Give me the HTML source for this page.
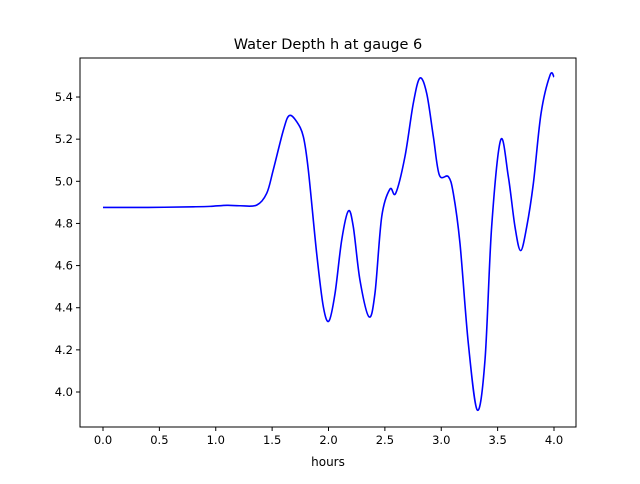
<!DOCTYPE html>
<html><head><meta charset="utf-8"><style>
body{margin:0;background:#fff;font-family:"DejaVu Sans","Liberation Sans",sans-serif}
</style></head><body>
<svg id="c" width="640" height="480" xmlns="http://www.w3.org/2000/svg"></svg>
<script>
const times=[0,0.4,0.8,0.95,1.1,1.215,1.363,1.452,1.51,1.60,1.652,1.718,1.777,1.821,1.895,1.954,2.004,2.058,2.117,2.176,2.22,2.279,2.359,2.412,2.472,2.545,2.596,2.678,2.752,2.811,2.871,2.93,2.983,3.063,3.107,3.166,3.24,3.32,3.388,3.447,3.527,3.595,3.654,3.704,3.758,3.817,3.885,3.965,4.0];
const depths=[4.876,4.876,4.879,4.881,4.886,4.884,4.887,4.943,5.054,5.243,5.312,5.283,5.212,5.054,4.658,4.405,4.337,4.468,4.721,4.859,4.784,4.531,4.357,4.468,4.832,4.963,4.943,5.117,5.370,5.490,5.417,5.212,5.030,5.022,4.943,4.706,4.231,3.914,4.152,4.784,5.196,5.022,4.784,4.671,4.784,4.990,5.322,5.504,5.495];
const xTicks=[0,0.5,1,1.5,2,2.5,3,3.5,4];
const yTicks=[4.0,4.2,4.4,4.6,4.8,5.0,5.2,5.4];
const NS="http://www.w3.org/2000/svg";
const svg=document.getElementById('c');
const L=80,R=576,T=58,B=427;
const xs=t=>103+t*112.75;
const ys=h=>392-(h-4.0)*210.7;
function mk(tag,a,txt){const e=document.createElementNS(NS,tag);for(const k in a)e.setAttribute(k,a[k]);if(txt!==undefined)e.textContent=txt;svg.appendChild(e);return e;}
let t=mk('text',{x:328,y:49,'text-anchor':'middle','font-size':'14.5',fill:'#000'},'Water Depth h at gauge 6');


// line
const P=times.map((v,i)=>[xs(v),ys(depths[i])]);
let d='M'+P[0][0]+','+P[0][1];
for(let i=0;i<P.length-1;i++){const p0=P[Math.max(0,i-1)],p1=P[i],p2=P[i+1],p3=P[Math.min(P.length-1,i+2)];
const c1=[p1[0]+(p2[0]-p0[0])/6,p1[1]+(p2[1]-p0[1])/6],c2=[p2[0]-(p3[0]-p1[0])/6,p2[1]-(p3[1]-p1[1])/6];
d+=` C${c1[0]},${c1[1]} ${c2[0]},${c2[1]} ${p2[0]},${p2[1]}`;}
let ln=mk('path',{d:d,fill:'none',stroke:'#0000ff','stroke-width':1.6});


let fr=mk('rect',{x:L,y:T,width:R-L,height:B-T,fill:'none',stroke:'#000','stroke-width':1});


xTicks.forEach(v=>{const x=xs(v);mk('line',{x1:x,x2:x,y1:B,y2:B+4,stroke:'#000'});
const l=mk('text',{x:x,y:B+17,'text-anchor':'middle','font-size':'11.5'},v.toFixed(1));

});
yTicks.forEach(v=>{const y=ys(v);mk('line',{x1:L-4,x2:L,y1:y,y2:y,stroke:'#000'});
const l=mk('text',{x:L-7,y:y+4,'text-anchor':'end','font-size':'11.5'},v.toFixed(1));

});
let xl=mk('text',{x:328,y:466,'text-anchor':'middle','font-size':'12'},'hours');


</script>
</body></html>
